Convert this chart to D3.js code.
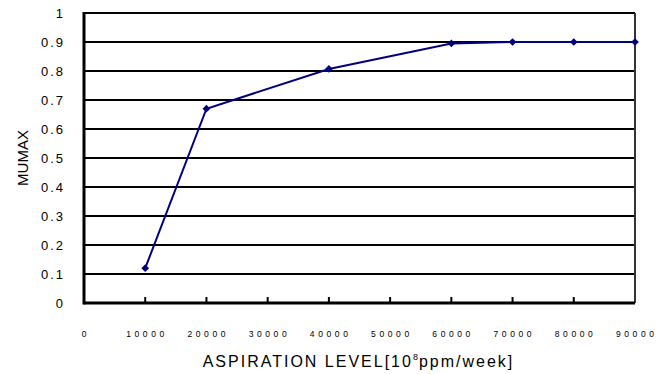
<!DOCTYPE html>
<html>
<head>
<meta charset="utf-8">
<script src="https://cdn.jsdelivr.net/npm/d3@7"></script>
<style>
  body { margin: 0; background: #fff; }
  text { font-family: "Liberation Sans", Arial, sans-serif; fill: #000; }
</style>
</head>
<body>
<script>
var aspiration = [10000, 20000, 40000, 60000, 70000, 80000, 90000];
var mumax = [0.12, 0.67, 0.807, 0.895, 0.9, 0.9, 0.9];
var xTicks = [0, 10000, 20000, 30000, 40000, 50000, 60000, 70000, 80000, 90000];
var yTicks = [0, 0.1, 0.2, 0.3, 0.4, 0.5, 0.6, 0.7, 0.8, 0.9, 1];

var width = 671, height = 374;
var plotLeft = 84, plotRight = 635, plotTop = 13, plotBottom = 303;

var svg = d3.select('body').append('svg')
  .attr('width', width).attr('height', height);

var x = d3.scaleLinear().domain([0, 90000]).range([plotLeft, plotRight]);
var y = d3.scaleLinear().domain([0, 1]).range([plotBottom, plotTop]);

// horizontal grid lines
svg.selectAll('line.grid')
  .data(yTicks.slice(1))
  .enter().append('line')
  .attr('x1', plotLeft).attr('x2', plotRight)
  .attr('y1', function (d) { return y(d); })
  .attr('y2', function (d) { return y(d); })
  .attr('stroke', '#000').attr('stroke-width', 2);

// right border
svg.append('line')
  .attr('x1', plotRight).attr('x2', plotRight).attr('y1', plotTop).attr('y2', plotBottom)
  .attr('stroke', '#333').attr('stroke-width', 2);

// x tick marks (inside)
svg.selectAll('line.xtick')
  .data(xTicks.slice(1, -1))
  .enter().append('line')
  .attr('x1', function (d) { return x(d); })
  .attr('x2', function (d) { return x(d); })
  .attr('y1', plotBottom).attr('y2', plotBottom - 6)
  .attr('stroke', '#000').attr('stroke-width', 2);

// axes
svg.append('line')
  .attr('x1', plotLeft).attr('x2', plotRight).attr('y1', plotBottom).attr('y2', plotBottom)
  .attr('stroke', '#000').attr('stroke-width', 3);
svg.append('line')
  .attr('x1', plotLeft).attr('x2', plotLeft).attr('y1', plotTop - 1).attr('y2', plotBottom + 1.5)
  .attr('stroke', '#000').attr('stroke-width', 3);

// y labels
svg.selectAll('text.ylab')
  .data(yTicks)
  .enter().append('text')
  .attr('x', 65)
  .attr('y', function (d) { return y(d) + 5; })
  .attr('text-anchor', 'end')
  .style('font-size', '13px')
  .style('letter-spacing', '2px')
  .text(function (d) { return d3.format('~g')(d); });

// x labels
svg.selectAll('text.xlab')
  .data(xTicks)
  .enter().append('text')
  .attr('x', function (d) { return x(d) + 1.8; })
  .attr('y', 337)
  .attr('text-anchor', 'middle')
  .style('font-size', '8.5px')
  .style('letter-spacing', '3.6px')
  .text(function (d) { return d; });

// line + markers
var line = d3.line()
  .x(function (d, i) { return x(aspiration[i]); })
  .y(function (d) { return y(d); });

svg.append('path')
  .datum(mumax)
  .attr('d', line)
  .attr('fill', 'none')
  .attr('stroke', '#000080')
  .attr('stroke-width', 2);

svg.selectAll('path.marker')
  .data(mumax)
  .enter().append('path')
  .attr('transform', function (d, i) { return 'translate(' + x(aspiration[i]) + ',' + y(d) + ') rotate(45)'; })
  .attr('d', d3.symbol().type(d3.symbolSquare).size(30))
  .attr('fill', '#000080');

// axis titles
svg.append('text')
  .attr('transform', 'translate(28,' + ((plotTop + plotBottom) / 2) + ') rotate(-90)')
  .attr('text-anchor', 'middle')
  .style('font-size', '15px')
  .text('MUMAX');

var title = svg.append('text')
  .attr('x', 358.5).attr('y', 367)
  .attr('text-anchor', 'middle')
  .style('font-size', '16px')
  .style('letter-spacing', '2px');
title.append('tspan').text('ASPIRATION LEVEL[10');
title.append('tspan').attr('dy', -7).style('font-size', '9px').style('letter-spacing', '1px').text('8');
title.append('tspan').attr('dy', 7).text('ppm/week]');
</script>
</body>
</html>
